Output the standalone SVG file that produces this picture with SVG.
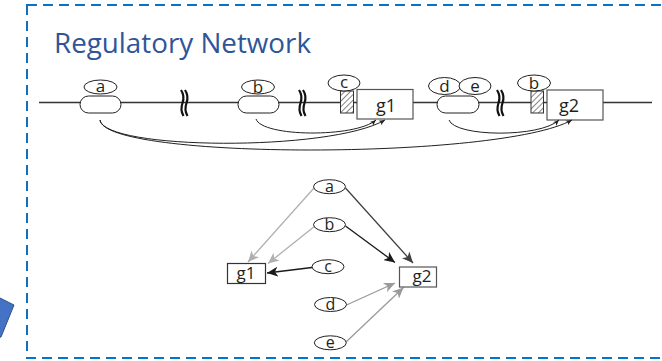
<svg xmlns="http://www.w3.org/2000/svg" width="662" height="361" viewBox="0 0 662 361">
<defs>
<style>
.lbl{font-family:"Open Sans","Liberation Sans",sans-serif;fill:#231f20;text-anchor:middle}
.nd{fill:#fff;stroke:#231f20;stroke-width:1}
.box{fill:#fff;stroke:#555;stroke-width:1.2}
.crv{fill:none;stroke:#231f20;stroke-width:1}
.brk{fill:none;stroke:#111;stroke-width:2.2}
.e{fill:none;stroke-width:1.3}
</style>
<pattern id="hatch" patternUnits="userSpaceOnUse" width="4" height="4" patternTransform="rotate(45)">
<rect width="4" height="4" fill="#fff"/>
<line x1="0" y1="0" x2="0" y2="4" stroke="#333" stroke-width="1.2"/>
</pattern>
<marker id="sm" markerWidth="7" markerHeight="6" refX="6" refY="3" orient="auto" markerUnits="userSpaceOnUse">
<path d="M0,0.5 L6,3 L0,5.5 L1.5,3 Z" fill="#231f20"/>
</marker>
<marker id="mLight" markerWidth="12" markerHeight="10" refX="11" refY="5" orient="auto" markerUnits="userSpaceOnUse">
<path d="M0,0 L11,5 L0,10 L3,5 Z" fill="#b0b0b0"/>
</marker>
<marker id="mMid" markerWidth="12" markerHeight="10" refX="11" refY="5" orient="auto" markerUnits="userSpaceOnUse">
<path d="M0,0 L11,5 L0,10 L3,5 Z" fill="#9a9a9a"/>
</marker>
<marker id="mDark" markerWidth="12" markerHeight="10" refX="11" refY="5" orient="auto" markerUnits="userSpaceOnUse">
<path d="M0,0 L11,5 L0,10 L3,5 Z" fill="#404040"/>
</marker>
<marker id="mBlack" markerWidth="12" markerHeight="10" refX="11" refY="5" orient="auto" markerUnits="userSpaceOnUse">
<path d="M0,0 L11,5 L0,10 L3,5 Z" fill="#1a1a1a"/>
</marker>
</defs>
<rect width="662" height="361" fill="#fff"/>

<polygon id="blue-shape" points="-6,295 14,305 1,337 -6,339" fill="#4472c4" stroke="#2f528f" stroke-width="1"/>

<rect id="frame" x="27" y="5" width="660" height="353" fill="none" stroke="#0a72c4" stroke-width="2" stroke-dasharray="10,6"/>

<text id="title" x="54" y="53" font-family="'Open Sans','Liberation Sans',sans-serif" font-size="27" fill="#2f5597" textLength="257" lengthAdjust="spacingAndGlyphs">Regulatory Network</text>

<g id="dna">
<line x1="39" y1="102.5" x2="652" y2="102.5" stroke="#333" stroke-width="1.6"/>
</g>

<g id="breaks">
<path class="brk" d="M181,90 Q185,96 182.5,103 Q180,110 183.5,116"/>
<path class="brk" d="M185,90 Q189,96 186.5,103 Q184,110 187.5,116"/>
<path class="brk" d="M299,90 Q303,96 300.5,103 Q298,110 301.5,116"/>
<path class="brk" d="M303,90 Q307,96 304.5,103 Q302,110 305.5,116"/>
<path class="brk" d="M497,90 Q501,96 498.5,103 Q496,110 499.5,116"/>
<path class="brk" d="M501,90 Q505,96 502.5,103 Q500,110 503.5,116"/>
</g>

<g id="site-a">
<rect class="nd" x="80" y="96" width="41" height="17" rx="8.5"/>
<ellipse class="nd" cx="100.5" cy="87" rx="16.5" ry="7"/>
<text class="lbl" x="100.5" y="92" font-size="17">a</text>
</g>
<g id="site-b">
<rect class="nd" x="238" y="96" width="41" height="17" rx="8.5"/>
<ellipse class="nd" cx="258" cy="87" rx="16.5" ry="7"/>
<text class="lbl" x="258" y="92.5" font-size="17">b</text>
</g>
<g id="site-c">
<rect x="340.5" y="91" width="13" height="22" fill="url(#hatch)" stroke="#333" stroke-width="1"/>
<ellipse class="nd" cx="344" cy="83" rx="16" ry="8"/>
<text class="lbl" x="344" y="88" font-size="17">c</text>
</g>
<g id="gene-g1">
<rect class="box" x="357" y="89.5" width="56" height="29.5"/>
<text class="lbl" x="386" y="111.5" font-size="18">g1</text>
</g>
<g id="site-de">
<rect class="nd" x="437" y="96" width="42" height="17" rx="8.5"/>
<ellipse class="nd" cx="444.5" cy="86" rx="16" ry="8.5"/>
<ellipse class="nd" cx="475" cy="86" rx="16" ry="8.5"/>
<text class="lbl" x="444.5" y="91.5" font-size="17">d</text>
<text class="lbl" x="475" y="91.5" font-size="17">e</text>
</g>
<g id="site-b2">
<rect x="531" y="91" width="12.5" height="22" fill="url(#hatch)" stroke="#333" stroke-width="1"/>
<ellipse class="nd" cx="534" cy="83" rx="16.5" ry="8"/>
<text class="lbl" x="534" y="88.5" font-size="17">b</text>
</g>
<g id="gene-g2">
<rect class="box" x="547" y="90" width="56" height="30"/>
<text class="lbl" x="569" y="112" font-size="18">g2</text>
</g>

<g id="top-connectors">
<path class="crv" d="M256,119 C262,137 355,138 376,120" marker-end="url(#sm)"/>
<path class="crv" d="M100,120 C104,150 330,152 385,120" marker-end="url(#sm)"/>
<path class="crv" d="M100,120 C104,160 500,160 572,120" marker-end="url(#sm)"/>
<path class="crv" d="M449,120 C455,137 540,138 559,120" marker-end="url(#sm)"/>
</g>

<g id="net-connectors">
<line class="e" x1="314" y1="188" x2="248" y2="262" stroke="#b0b0b0" marker-end="url(#mLight)"/>
<line class="e" x1="315" y1="226" x2="268" y2="263.5" stroke="#b0b0b0" marker-end="url(#mLight)"/>
<line class="e" x1="312" y1="267.5" x2="267" y2="273" stroke="#1a1a1a" marker-end="url(#mBlack)"/>
<line class="e" x1="345.5" y1="188" x2="413" y2="263" stroke="#404040" marker-end="url(#mDark)"/>
<line class="e" x1="345.5" y1="226" x2="395" y2="262.5" stroke="#1a1a1a" marker-end="url(#mBlack)"/>
<line class="e" x1="346.5" y1="305" x2="395" y2="283" stroke="#9a9a9a" marker-end="url(#mMid)"/>
<line class="e" x1="346" y1="342" x2="403.5" y2="287.5" stroke="#9a9a9a" marker-end="url(#mMid)"/>
</g>

<g id="net-a"><ellipse class="nd" cx="329.5" cy="186.7" rx="16" ry="7"/><text class="lbl" x="329.5" y="191.5" font-size="16">a</text></g>
<g id="net-b"><ellipse class="nd" cx="329.5" cy="224.7" rx="16" ry="7"/><text class="lbl" x="329.5" y="230" font-size="16">b</text></g>
<g id="net-c"><ellipse class="nd" cx="328" cy="266.7" rx="16" ry="7"/><text class="lbl" x="328" y="271.5" font-size="16">c</text></g>
<g id="net-d"><ellipse class="nd" cx="330.5" cy="304.5" rx="16" ry="7"/><text class="lbl" x="330.5" y="309.8" font-size="16">d</text></g>
<g id="net-e"><ellipse class="nd" cx="330.3" cy="342.8" rx="16" ry="7"/><text class="lbl" x="330.3" y="347.6" font-size="16">e</text></g>
<g id="net-g1"><rect x="227.5" y="263.5" width="38" height="20" fill="#fff" stroke="#333" stroke-width="1.2"/><text class="lbl" x="246" y="278.5" font-size="17">g1</text></g>
<g id="net-g2"><rect x="399.5" y="267" width="37" height="20" fill="#fff" stroke="#555" stroke-width="1.2"/><text class="lbl" x="422" y="282" font-size="17">g2</text></g>
</svg>
